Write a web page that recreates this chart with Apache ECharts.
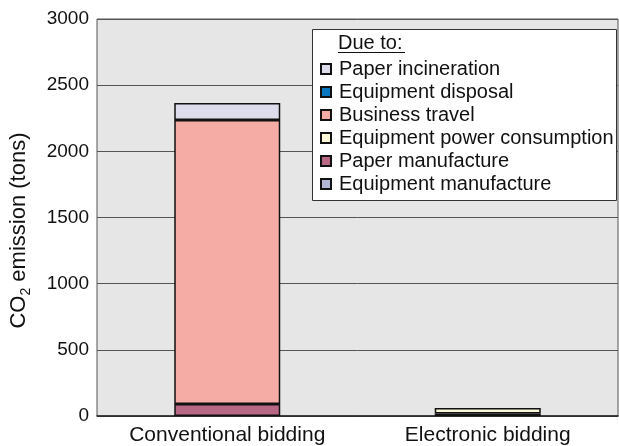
<!DOCTYPE html>
<html lang="en">
<head>
    <meta charset="UTF-8">
    <title>CO2 emission</title>
    <script src="https://cdn.jsdelivr.net/npm/echarts@6/dist/echarts.min.js"></script>
</head>
<body style="margin:0;background:#fff;">
    <div id="main" style="width:619px;height:446px;"></div>
</body>
<script type="text/javascript">
    // data (tons of CO2)
    var categories = ['Conventional bidding', 'Electronic bidding'];
    // stacked from bottom to top
    var seriesNames = ['Equipment manufacture', 'Paper manufacture', 'Equipment power consumption',
                       'Business travel', 'Equipment disposal', 'Paper incineration'];
    var equipManufacture = ['-', 18];
    var paperManufacture = [91, '-'];
    var equipPower = ['-', 42];
    var businessTravel = [2146, '-'];
    var equipDisposal = ['-', '-'];
    var paperIncineration = [128, '-'];
    var yTicks = [0, 500, 1000, 1500, 2000, 2500, 3000];

    var seriesData = [equipManufacture, paperManufacture, equipPower,
                      businessTravel, equipDisposal, paperIncineration];
    var colors = ['#b4b6d8', '#b86784', '#fbf8d8', '#f5aca4', '#0a78c0', '#dcdcec'];

    var font = 'Liberation Sans, Arial, Helvetica, sans-serif';
    var myChart = echarts.init(document.getElementById('main'));

    var series = [];
    for (var i = 0; i < seriesNames.length; i++) {
        series.push({
            name: seriesNames[i],
            type: 'bar',
            stack: 'total',
            barWidth: 106,
            data: seriesData[i],
            itemStyle: { color: colors[i], borderColor: '#111', borderWidth: 1.5 }
        });
    }

    var option = {
        animation: false,
        textStyle: { fontFamily: font },
        grid: {
            left: 96, top: 19, right: 1, bottom: 30,
            show: true, backgroundColor: '#e6e6e6', borderColor: '#555', borderWidth: 1
        },
        legend: {
            orient: 'vertical',
            left: 315, top: 54,
            itemWidth: 10, itemHeight: 10, itemGap: 3,
            icon: 'rect',
            z: 6,
            data: seriesNames.slice().reverse(),
            textStyle: { fontSize: 20, lineHeight: 20, color: '#111', fontFamily: font, padding: [0, 0, 0, 3] }
        },
        graphic: [
            { type: 'rect', z: 5, shape: { x: 312.5, y: 29.5, width: 304, height: 171 },
              style: { fill: '#fff', stroke: '#333', lineWidth: 1 } },
            { type: 'text', z: 6, x: 338, y: 33,
              style: { text: 'Due to:', fontSize: 20, fontFamily: font, fill: '#111' } },
            { type: 'line', z: 6, shape: { x1: 338, y1: 52.5, x2: 405, y2: 52.5 },
              style: { stroke: '#111', lineWidth: 1 } }
        ],
        xAxis: {
            type: 'category',
            data: categories,
            axisLine: { lineStyle: { color: '#222', width: 1.5 } },
            axisTick: { inside: true, length: 6, lineStyle: { color: '#222' } },
            axisLabel: { fontSize: 21, color: '#111', margin: 9, fontFamily: font }
        },
        yAxis: {
            type: 'value',
            min: yTicks[0],
            max: yTicks[yTicks.length - 1],
            interval: 500,
            name: '{a|CO}{b|2}{a| emission (tons)}',
            nameLocation: 'middle',
            nameGap: 64,
            nameTextStyle: {
                padding: [0, 26, 0, 0],
                rich: {
                    a: { fontSize: 22, lineHeight: 28, verticalAlign: 'middle', color: '#111', fontFamily: font },
                    b: { fontSize: 14, lineHeight: 14, verticalAlign: 'bottom', color: '#111', fontFamily: font }
                }
            },
            axisLine: { show: false },
            axisTick: { show: false },
            axisLabel: {
                fontSize: 19, color: '#111', margin: 8, fontFamily: font,
                formatter: function (v) { return String(v); }
            },
            splitLine: { lineStyle: { color: '#555', width: 1 } }
        },
        series: series
    };

    myChart.setOption(option);
</script>
</html>
